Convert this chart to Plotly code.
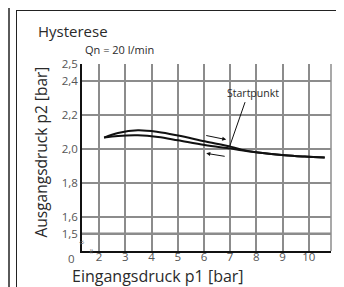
import plotly.graph_objects as go

# Data
p1_upper = [2.19, 2.72, 3.48, 4.25, 5.01, 6.03, 7.05, 7.43, 8.06, 9.08, 9.85, 10.61]
p2_upper = [2.066, 2.093, 2.109, 2.099, 2.078, 2.044, 2.011, 1.995, 1.978, 1.962, 1.954, 1.948]
p1_lower = [2.19, 2.72, 3.48, 4.25, 5.01, 6.03, 7.05, 7.43, 8.06, 9.08, 9.85, 10.61]
p2_lower = [2.066, 2.076, 2.080, 2.070, 2.050, 2.022, 2.001, 1.991, 1.978, 1.962, 1.954, 1.948]

x_ticks = [2, 3, 4, 5, 6, 7, 8, 9, 10]
x_ticktext = ["2", "3", "4", "5", "6", "7", "8", "9", "10"]
y_ticks = [1.5, 1.6, 1.8, 2.0, 2.2, 2.4, 2.5]
y_ticktext = ["1,5", "1,6", "1,8", "2,0", "2,2", "2,4", "2,5"]

FONT = "Open Sans"
TXT = "#2a2a2a"
TICK = "#555"
GRID = "#8c8c8c"

fig = go.Figure()
fig.add_trace(go.Scatter(x=p1_upper, y=p2_upper, mode="lines",
                         line=dict(color="#111", width=2, shape="spline"), hoverinfo="skip"))
fig.add_trace(go.Scatter(x=p1_lower, y=p2_lower, mode="lines",
                         line=dict(color="#111", width=2, shape="spline"), hoverinfo="skip"))

XR = [1.347, 10.85]
YR = [1.397, 2.5]

shapes = []
# darker horizontal lines
for yv in [1.8, 1.5]:
    shapes.append(dict(type="line", xref="paper", yref="y", x0=0, x1=1, y0=yv, y1=yv,
                       line=dict(color="#111", width=1.5), layer="below"))
# right border of plot
shapes.append(dict(type="line", xref="paper", yref="paper", x0=1, x1=1, y0=0, y1=1,
                   line=dict(color=GRID, width=1.5)))
# outer frame
def px(x):
    return (x - 74) / 249
def py(y):
    return (243 - y) / 187
shapes.append(dict(type="rect", xref="paper", yref="paper", x0=px(0), x1=px(2), y0=py(0), y1=py(287),
                   line=dict(width=0), fillcolor="#5a5a5a"))
shapes.append(dict(type="line", xref="paper", yref="paper", x0=px(8.5), x1=px(8.5), y0=py(2), y1=py(287),
                   line=dict(color="#222", width=1)))
shapes.append(dict(type="line", xref="paper", yref="paper", x0=px(8.5), x1=px(341), y0=py(2.5), y1=py(2.5),
                   line=dict(color="#222", width=1)))
shapes.append(dict(type="rect", xref="paper", yref="paper", x0=px(340), x1=px(343), y0=py(0), y1=py(287),
                   line=dict(width=0), fillcolor="#5a5a5a"))
# Startpunkt leader line
shapes.append(dict(type="line", xref="x", yref="y", x0=7.57, y0=2.275, x1=6.98, y1=2.013,
                   line=dict(color="#111", width=1)))

annotations = [
    dict(text="Hysterese", xref="paper", yref="paper", x=px(28), y=py(23), xanchor="left",
         yanchor="middle", showarrow=False, font=dict(family=FONT, size=15, color=TXT)),
    dict(text="Qn = 20 l/min", xref="paper", yref="paper", x=px(75), y=py(42), xanchor="left",
         yanchor="middle", showarrow=False, font=dict(family=FONT, size=11, color=TXT)),
    dict(text="Ausgangsdruck p2 [bar]", xref="paper", yref="paper", x=px(32), y=py(144.5),
         xanchor="center", yanchor="middle", textangle=-90, showarrow=False,
         font=dict(family=FONT, size=15.5, color=TXT)),
    dict(text="Eingangsdruck p1 [bar]", xref="paper", yref="paper", x=px(149.5), y=py(268),
         xanchor="center", yanchor="middle", showarrow=False, font=dict(family=FONT, size=16, color=TXT)),
    dict(text="0", xref="paper", yref="paper", x=px(63.5), y=py(250), xanchor="center",
         yanchor="middle", showarrow=False, font=dict(family=FONT, size=11.5, color=TICK)),
    dict(text="Startpunkt", xref="x", yref="y", x=7.89, y=2.328, xanchor="center",
         yanchor="middle", showarrow=False, font=dict(family=FONT, size=10.5, color=TXT)),
    dict(text="≈", xref="paper", yref="paper", x=px(73), y=py(234.5), xanchor="center",
         yanchor="middle", textangle=-25, showarrow=False, font=dict(family=FONT, size=9, color="#666")),
    dict(text="≈", xref="paper", yref="paper", x=px(83.5), y=py(243), xanchor="center",
         yanchor="middle", textangle=90, showarrow=False, font=dict(family=FONT, size=9, color="#666")),
    # direction arrows
    dict(x=6.85, y=2.054, ax=6.03, ay=2.080, xref="x", yref="y", axref="x", ayref="y", text="",
         showarrow=True, arrowhead=2, arrowsize=0.8, arrowwidth=1, arrowcolor="#111"),
    dict(x=6.09, y=1.973, ax=6.85, ay=1.954, xref="x", yref="y", axref="x", ayref="y", text="",
         showarrow=True, arrowhead=2, arrowsize=0.8, arrowwidth=1, arrowcolor="#111"),
]

fig.update_layout(
    width=344, height=287,
    margin=dict(l=74, r=21, t=56, b=44),
    paper_bgcolor="white", plot_bgcolor="white",
    showlegend=False,
    shapes=shapes, annotations=annotations,
    xaxis=dict(range=XR, tickvals=x_ticks, ticktext=x_ticktext, showgrid=True,
               gridcolor=GRID, gridwidth=1.5, showline=True, linecolor="#111", linewidth=1.5,
               ticks="", ticklabelstandoff=-6,
               tickfont=dict(family=FONT, size=11.5, color=TICK), zeroline=False,
               fixedrange=True),
    yaxis=dict(range=YR, tickvals=y_ticks, ticktext=y_ticktext, showgrid=True,
               gridcolor=GRID, gridwidth=1.5, showline=True, linecolor="#111", linewidth=1.5,
               ticks="", tickfont=dict(family=FONT, size=11.5, color=TICK), zeroline=False,
               fixedrange=True),
)

fig.write_html("out.html")
